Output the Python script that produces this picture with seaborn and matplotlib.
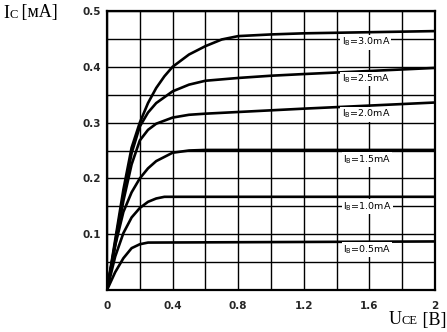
import numpy as np
import pandas as pd
import seaborn as sns
import matplotlib
matplotlib.use("Agg")
import matplotlib.pyplot as plt
from matplotlib.offsetbox import TextArea, HPacker, AnnotationBbox

# ---- data ----
ib_labels = ["3.0", "2.5", "2.0", "1.5", "1.0", "0.5"]

x_30 = [0, 0.05, 0.1, 0.15, 0.2, 0.25, 0.3, 0.35, 0.4, 0.5, 0.6, 0.7, 0.8, 1.0, 1.2, 2.0]
y_30 = [0, 0.09, 0.18, 0.255, 0.30, 0.335, 0.362, 0.383, 0.40, 0.422, 0.437, 0.449, 0.455, 0.458, 0.460, 0.464]

x_25 = [0, 0.05, 0.1, 0.15, 0.2, 0.25, 0.3, 0.4, 0.5, 0.6, 0.8, 1.0, 1.2, 2.0]
y_25 = [0, 0.085, 0.17, 0.245, 0.293, 0.318, 0.335, 0.356, 0.368, 0.375, 0.380, 0.384, 0.387, 0.398]

x_20 = [0, 0.05, 0.1, 0.15, 0.2, 0.25, 0.3, 0.4, 0.5, 0.6, 0.8, 1.0, 1.2, 2.0]
y_20 = [0, 0.08, 0.16, 0.225, 0.268, 0.287, 0.298, 0.309, 0.314, 0.316, 0.319, 0.322, 0.325, 0.336]

x_15 = [0, 0.05, 0.1, 0.15, 0.2, 0.25, 0.3, 0.4, 0.5, 0.6, 2.0]
y_15 = [0, 0.08, 0.14, 0.175, 0.20, 0.218, 0.231, 0.246, 0.250, 0.251, 0.251]

x_10 = [0, 0.05, 0.1, 0.15, 0.2, 0.25, 0.3, 0.35, 2.0]
y_10 = [0, 0.06, 0.102, 0.13, 0.147, 0.158, 0.164, 0.167, 0.167]

x_05 = [0, 0.05, 0.1, 0.15, 0.2, 0.25, 2.0]
y_05 = [0, 0.032, 0.057, 0.075, 0.082, 0.085, 0.087]

label_x = [1.43, 1.43, 1.43, 1.44, 1.44, 1.44]
label_y = [0.444, 0.378, 0.315, 0.234, 0.149, 0.072]

x_ticks = [0, 0.4, 0.8, 1.2, 1.6, 2.0]
x_tick_labels = ["0", "0.4", "0.8", "1.2", "1.6", "2"]
y_ticks = [0.1, 0.2, 0.3, 0.4, 0.5]
y_tick_labels = ["0.1", "0.2", "0.3", "0.4", "0.5"]

series = [(x_30, y_30), (x_25, y_25), (x_20, y_20), (x_15, y_15), (x_10, y_10), (x_05, y_05)]

# ---- figure ----
sns.set_style("white")
plt.rcParams["font.family"] = ["DejaVu Sans"]

fig = plt.figure(figsize=(4.47, 3.32), dpi=100)
ax = fig.add_axes([107 / 447, 42 / 332, 328 / 447, 279 / 332])

for (xs, ys), lab in zip(series, ib_labels):
    df = pd.DataFrame({"U": xs, "I": ys})
    sns.lineplot(data=df, x="U", y="I", ax=ax, color="black", linewidth=1.9,
                 sort=False, estimator=None, zorder=3)

ax.set_xlim(0, 2)
ax.set_ylim(0, 0.5)
ax.set_xlabel("")
ax.set_ylabel("")

ax.set_xticks(x_ticks)
ax.set_xticklabels(x_tick_labels)
ax.set_yticks(y_ticks)
ax.set_yticklabels(y_tick_labels)
ax.set_xticks(np.arange(0, 2.01, 0.2), minor=True)
ax.set_yticks(np.arange(0, 0.501, 0.05), minor=True)
ax.grid(True, which="both", color="black", linewidth=1.0, zorder=1)
ax.set_axisbelow(True)
ax.tick_params(which="both", length=0)
ax.tick_params(axis="x", pad=8, labelsize=7.5)
ax.tick_params(axis="y", pad=4, labelsize=7.5)
for lbl in ax.get_xticklabels() + ax.get_yticklabels():
    lbl.set_fontweight("semibold")
for s in ax.spines.values():
    s.set_visible(True)
    s.set_color("black")
    s.set_linewidth(1.6)

for lab, lx, ly in zip(ib_labels, label_x, label_y):
    ax.text(lx, ly, r"I$_{\rm B}$=" + lab + "mA", fontsize=6.8, va="center", ha="left",
            color="black", zorder=4,
            bbox=dict(facecolor="white", edgecolor="none", pad=0.8))

# axis titles with small-caps style subscripts
serif = "Liberation Serif"

def make_label(parts):
    areas = [TextArea(t, textprops=dict(fontsize=sz, family=serif, color="black"))
             for t, sz in parts]
    return HPacker(children=areas, align="baseline", pad=0, sep=0)

ylab = make_label([("I", 13), ("C", 9), (" [мА]", 13)])
ab1 = AnnotationBbox(ylab, (3 / 447, 1 - 13 / 332), xycoords="figure fraction",
                     box_alignment=(0, 0.5), frameon=False, pad=0)
fig.add_artist(ab1)

xlab = make_label([("U", 13), ("CE", 9), (" [В]", 13)])
ab2 = AnnotationBbox(xlab, (389 / 447, 12 / 332), xycoords="figure fraction",
                     box_alignment=(0, 0.5), frameon=False, pad=0)
fig.add_artist(ab2)

fig.savefig("out.png", dpi=100, facecolor="white")
